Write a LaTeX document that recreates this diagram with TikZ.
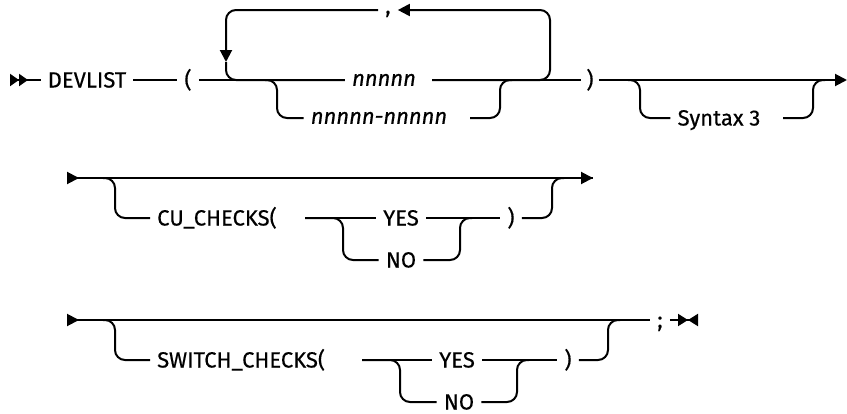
\documentclass[tikz,border=0pt]{standalone}
\usepackage{fontspec}
\setmainfont{Fira Sans}[FakeBold=0.5]
\usetikzlibrary{arrows.meta}

\begin{document}
\begin{tikzpicture}[x=1pt,y=-1pt,
  rail/.style={line width=2pt,rounded corners=10pt},
  kw/.style={font=\fontsize{22}{22}\selectfont,inner xsep=7pt,inner ysep=0pt,text height=15pt,text depth=0pt},
  var/.style={kw,font=\fontsize{22}{22}\selectfont\itshape,text height=11.5pt},
  fwd/.style={-{Triangle[length=12pt,width=12pt]}},
  inarr/.style={{Triangle[reversed,length=12pt,width=12pt]}-},
  begarr/.style={{Triangle[reversed,length=9pt,width=12pt]Triangle[reversed,length=9pt,width=12pt]}-},
  endarr/.style={-{Triangle[length=10pt,width=12pt]Triangle[reversed,length=10pt,width=12pt]}}]
  \useasboundingbox (0,0) rectangle (847,413);

  % first line: DEVLIST ( ... )
  \coordinate (st1) at (10,80);
  \coordinate (en1) at (847,80);
  \coordinate (sp1) at (277,80);
  \coordinate (jn1) at (500,80);
  \coordinate (nnA) at (432,80);
  \coordinate (nnE) at (470,118);
  \coordinate (sp6) at (640,80);
  \coordinate (jn6) at (813,80);
  \coordinate (synE) at (783,118);
  \coordinate (lpR) at (550,10);
  \coordinate (lpA) at (226,62);
  \node[kw] (devlist) at (87,80) {DEVLIST};
  \node[kw] (lp1) at (188,80) {(};
  \node[var] (nn) at (384,80) {nnnnn};
  \node[var] (nnr) at (379,118) {nnnnn-nnnnn};
  \node[kw,text height=7pt] (comma) at (388,10) {,};
  \node[kw,inner xsep=5pt] (rp1) at (590,80) {)};
  \node[kw] (syn) at (719,118) {Syntax 3};
  \draw[rail,begarr] (st1) -- (devlist);
  \draw[rail] (devlist) -- (lp1);
  \draw[rail] (lp1) -- (nn);
  \draw[rail] (nnA) -- (rp1);
  \draw[rail,fwd] (rp1) -- (en1);
  \draw[rail] (sp1) ++(-12,0) -- (sp1) |- (nnr);
  \draw[rail] (nnE) -| (jn1) -- ++(12,0);
  \draw[rail,fwd] (nnA) -| (lpR) -- (comma);
  \draw[rail,fwd] (comma) -| (lpA);
  \draw[rail] (lpA) |- (nn);
  \draw[rail] (sp6) ++(-12,0) -- (sp6) |- (syn);
  \draw[rail] (synE) -| (jn6) -- ++(12,0);

  % second line: CU_CHECKS
  \coordinate (st2) at (67,178);
  \coordinate (en2) at (593,178);
  \coordinate (sp2) at (115,178);
  \coordinate (jn2) at (552,178);
  \coordinate (cuE) at (305,218);
  \coordinate (sp3) at (343,218);
  \coordinate (jn3) at (460,218);
  \node[kw,anchor=west] (cu) at (150,218) {CU\_CHECKS(};
  \node[kw] (yes2) at (401,218) {YES};
  \node[kw] (no2) at (401,260) {NO};
  \node[kw] (rp2) at (511,218) {)};
  \draw[rail,inarr] (st2) -- ++(12,0) -- (en2);
  \draw[rail,fwd] (jn2) -- (en2);
  \draw[rail] (sp2) ++(-12,0) -- (sp2) |- (cu);
  \draw[rail] (cuE) -- (yes2);
  \draw[rail] (cuE) -- (sp3) |- (no2);
  \draw[rail] (yes2) -- (rp2);
  \draw[rail] (no2) -| (jn3) -- ++(12,0);
  \draw[rail] (rp2) -| (jn2) -- ++(12,0);

  % third line: SWITCH_CHECKS ;
  \coordinate (st3) at (67,320);
  \coordinate (fin) at (698,320);
  \coordinate (sp4) at (115,320);
  \coordinate (jn4) at (608,320);
  \coordinate (swE) at (362,360);
  \coordinate (sp5) at (400,360);
  \coordinate (jn5) at (517,360);
  \node[kw] (semi) at (660,320) {;};
  \node[kw,anchor=west] (sw) at (150,360) {SWITCH\_CHECKS(};
  \node[kw] (yes3) at (457,360) {YES};
  \node[kw] (no3) at (459,402) {NO};
  \node[kw] (rp3) at (568,360) {)};
  \draw[rail,inarr] (st3) -- (semi);
  \draw[rail,endarr] (semi) -- (fin);
  \draw[rail] (sp4) ++(-12,0) -- (sp4) |- (sw);
  \draw[rail] (swE) -- (yes3);
  \draw[rail] (swE) -- (sp5) |- (no3);
  \draw[rail] (yes3) -- (rp3);
  \draw[rail] (no3) -| (jn5) -- ++(12,0);
  \draw[rail] (rp3) -| (jn4) -- ++(12,0);
\end{tikzpicture}
\end{document}
